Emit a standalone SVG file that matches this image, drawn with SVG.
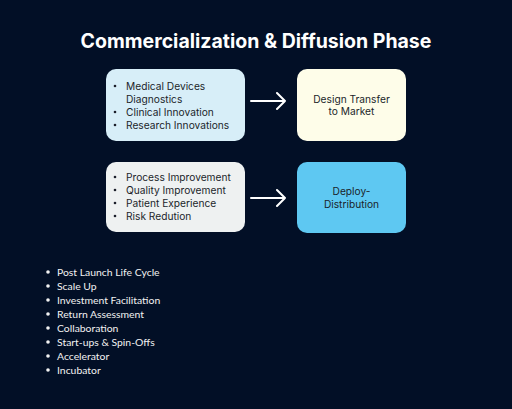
<svg xmlns="http://www.w3.org/2000/svg" width="512" height="409" viewBox="0 0 512 409">
<style>
.title{font-family:Inter,"Liberation Sans",sans-serif;font-weight:700;font-size:19.5px;fill:#ffffff}
.bt{font-family:Inter,"Liberation Sans",sans-serif;font-size:10.2px;fill:#1b1f2a}
.ct{font-family:Inter,"Liberation Sans",sans-serif;font-size:10.2px;fill:#1b1f2a;text-anchor:middle}
.lt{font-family:Lato,"Liberation Sans",sans-serif;font-size:10.4px;fill:#f2f2f2}
.arrow{stroke:#ffffff;stroke-width:2;fill:none;stroke-linecap:round;stroke-linejoin:round}
</style>
<rect width="512" height="409" fill="#020f26"/>
<text class="title" x="256" y="48" text-anchor="middle">Commercialization &amp; Diffusion Phase</text>
<g id="node-research">
<rect x="106" y="69" width="139" height="72" rx="10" fill="#d7eef8"/>
<circle cx="115" cy="86" r="1.3" fill="#1b1f2a"/>
<circle cx="115" cy="112" r="1.3" fill="#1b1f2a"/>
<circle cx="115" cy="125" r="1.3" fill="#1b1f2a"/>
<text class="bt" x="126" y="90">Medical Devices</text>
<text class="bt" x="126" y="103">Diagnostics</text>
<text class="bt" x="126" y="116">Clinical Innovation</text>
<text class="bt" x="126" y="129">Research Innovations</text>
</g>
<g id="node-transfer">
<rect x="297" y="69" width="109" height="72" rx="10" fill="#fefde9"/>
<text class="ct" x="351.5" y="103">Design Transfer</text>
<text class="ct" x="351.5" y="115">to Market</text>
</g>
<g id="node-process">
<rect x="106" y="162" width="139" height="70" rx="10" fill="#eef1f1"/>
<circle cx="115" cy="177" r="1.3" fill="#1b1f2a"/>
<circle cx="115" cy="190" r="1.3" fill="#1b1f2a"/>
<circle cx="115" cy="203" r="1.3" fill="#1b1f2a"/>
<circle cx="115" cy="216" r="1.3" fill="#1b1f2a"/>
<text class="bt" x="126" y="181">Process Improvement</text>
<text class="bt" x="126" y="194">Quality Improvement</text>
<text class="bt" x="126" y="207">Patient Experience</text>
<text class="bt" x="126" y="220">Risk Redution</text>
</g>
<g id="node-deploy">
<rect x="297" y="162" width="109" height="71" rx="10" fill="#5ec8f2"/>
<text class="ct" x="351.5" y="195">Deploy-</text>
<text class="ct" x="351.5" y="208">Distribution</text>
</g>
<g id="connectors">
<path class="arrow" d="M251 101 H285 M277 93 L285 101 L277 109"/>
<path class="arrow" d="M251 198 H285 M277 190 L285 198 L277 206"/>
</g>
<g id="list">
<circle cx="48" cy="272" r="1.8" fill="#f2f2f2"/>
<circle cx="48" cy="286" r="1.8" fill="#f2f2f2"/>
<circle cx="48" cy="300" r="1.8" fill="#f2f2f2"/>
<circle cx="48" cy="314" r="1.8" fill="#f2f2f2"/>
<circle cx="48" cy="328" r="1.8" fill="#f2f2f2"/>
<circle cx="48" cy="342" r="1.8" fill="#f2f2f2"/>
<circle cx="48" cy="356" r="1.8" fill="#f2f2f2"/>
<circle cx="48" cy="370" r="1.8" fill="#f2f2f2"/>
<text class="lt" x="57" y="276">Post Launch Life Cycle</text>
<text class="lt" x="57" y="290">Scale Up</text>
<text class="lt" x="57" y="304">Investment Facilitation</text>
<text class="lt" x="57" y="318">Return Assessment</text>
<text class="lt" x="57" y="332">Collaboration</text>
<text class="lt" x="57" y="346">Start-ups &amp; Spin-Offs</text>
<text class="lt" x="57" y="360">Accelerator</text>
<text class="lt" x="57" y="374">Incubator</text>
</g>
</svg>
